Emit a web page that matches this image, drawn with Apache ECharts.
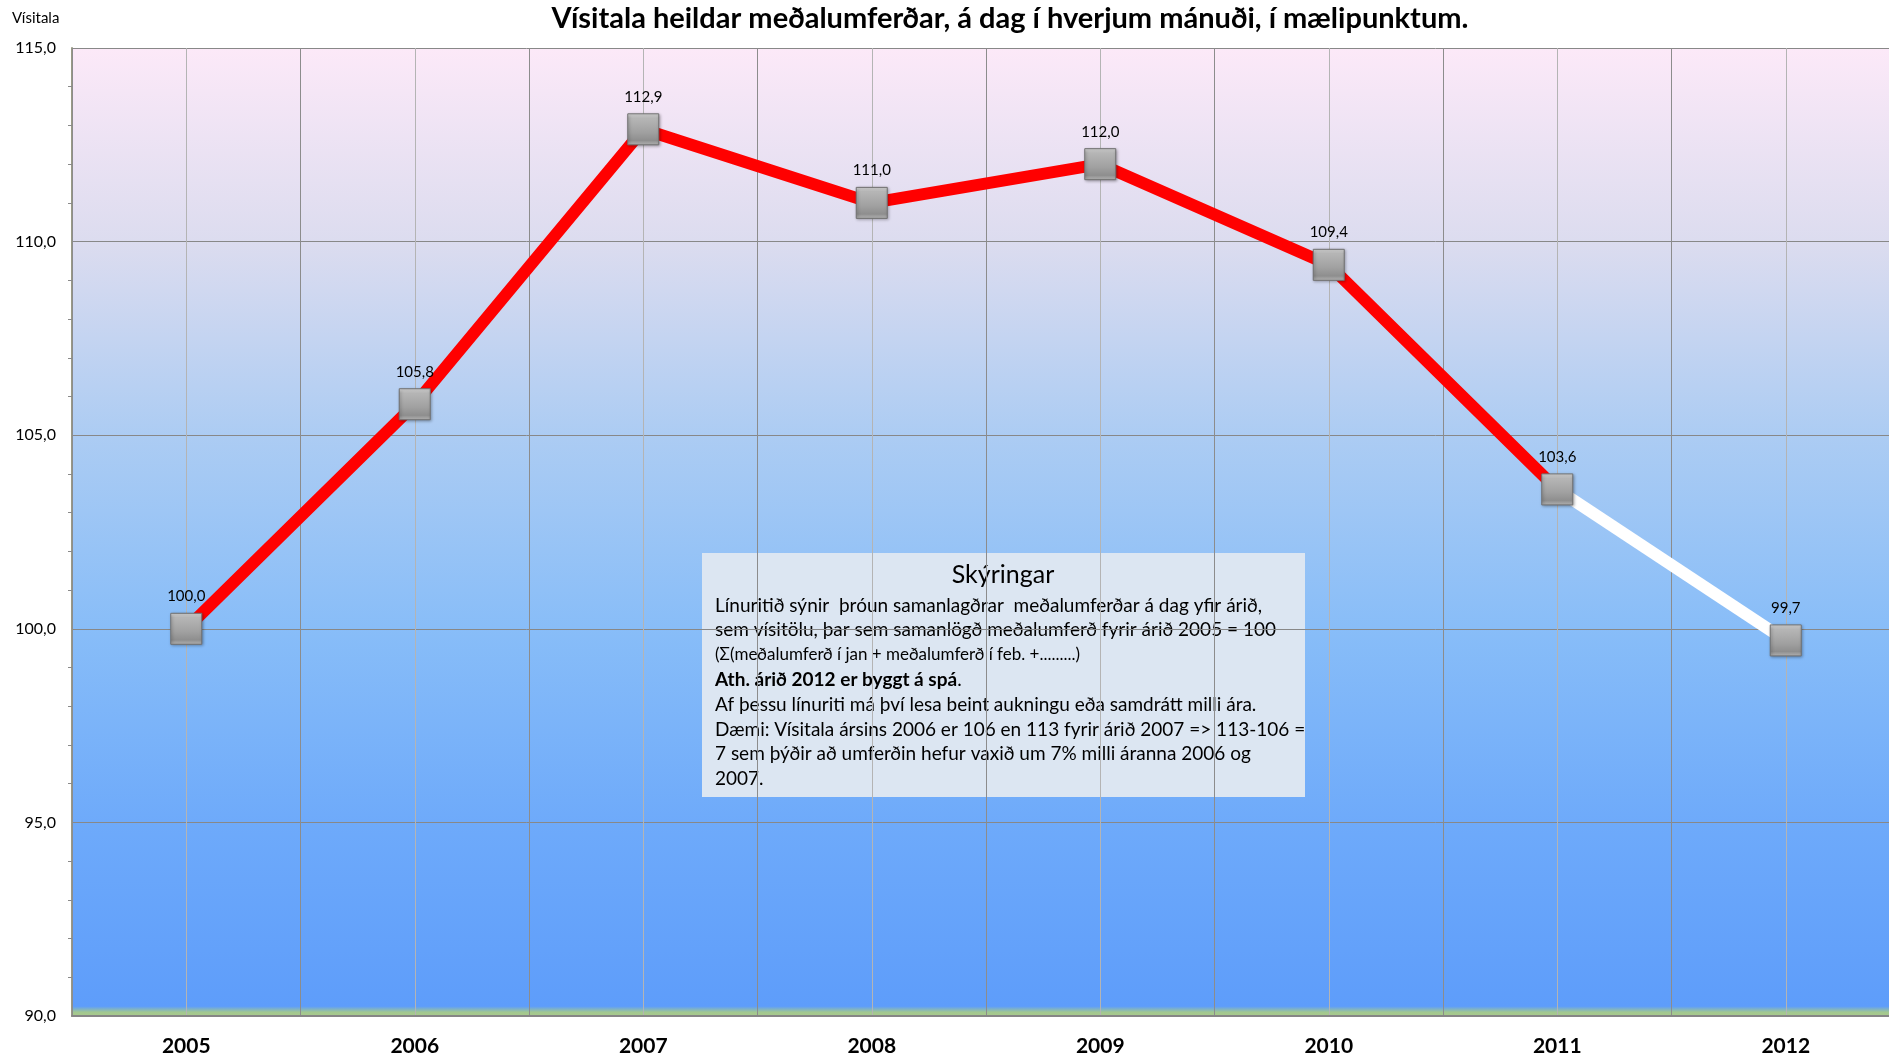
<!DOCTYPE html>
<html>
<head>
<meta charset="utf-8">
<script src="https://cdn.jsdelivr.net/npm/echarts@6/dist/echarts.min.js"></script>
<style>
  html, body { margin: 0; padding: 0; background: #fff; overflow: hidden; }
  #main { width: 1889px; height: 1059px; }
</style>
</head>
<body>
<div id="main"></div>
<script>
// data
var years = ['2005', '2006', '2007', '2008', '2009', '2010', '2011', '2012'];
var indexValues = [100.0, 105.8, 112.9, 111.0, 112.0, 109.4, 103.6, 99.7];
var actualValues = [100.0, 105.8, 112.9, 111.0, 112.0, 109.4, 103.6, '-'];
var forecastValues = ['-', '-', '-', '-', '-', '-', 103.6, 99.7];
var yTicks = [90, 95, 100, 105, 110, 115];

var font = 'Lato, "Open Sans", sans-serif';

function fmt(v) {
  return Number(v).toFixed(1).replace('.', ',');
}

var chartDom = document.getElementById('main');
var myChart = echarts.init(chartDom);
var option;

option = {
  backgroundColor: '#ffffff',
  animation: false,
  title: {
    text: 'Vísitala heildar meðalumferðar, á dag í hverjum mánuði, í mælipunktum.',
    left: 1005,
    textAlign: 'center',
    top: -1,
    textStyle: {
      color: '#000',
      fontSize: 29,
      fontWeight: 'bold',
      fontFamily: font
    }
  },
  grid: {
    left: 72,
    width: 1828,
    top: 48,
    bottom: 43,
    outerBoundsMode: 'none',
    containLabel: false,
    show: true,
    borderWidth: 0,
    backgroundColor: new echarts.graphic.LinearGradient(0, 0, 0, 1, [
      { offset: 0, color: '#fce9f8' },
      { offset: 0.2, color: '#dcdcef' },
      { offset: 0.4, color: '#acccf3' },
      { offset: 0.6, color: '#88bdf8' },
      { offset: 0.8, color: '#6eaafa' },
      { offset: 0.99, color: '#5e9dfa' },
      { offset: 0.996, color: '#a2c890' },
      { offset: 1, color: '#a9c98c' }
    ])
  },
  xAxis: [
    {
      type: 'category',
      data: years,
      boundaryGap: true,
      axisLine: { lineStyle: { color: '#868686', width: 2 } },
      axisTick: { show: false },
      axisLabel: {
        margin: 20,
        color: '#000',
        fontSize: 21,
        fontWeight: 'bold',
        fontFamily: font
      },
      splitLine: { show: true, lineStyle: { color: '#8c8c8c', width: 1 } },
      z: 3
    },
    {
      type: 'value',
      min: 0,
      max: 16,
      interval: 1,
      show: true,
      axisLine: { show: false },
      axisTick: { show: false },
      axisLabel: { show: false },
      splitLine: { show: true, lineStyle: { color: '#b4b4b4', width: 1 } }
    }
  ],
  yAxis: {
    type: 'value',
    min: yTicks[0],
    max: yTicks[yTicks.length - 1],
    interval: 5,
    name: 'Vísitala',
    nameLocation: 'end',
    nameGap: 0,
    nameTextStyle: {
      color: '#000',
      fontSize: 15,
      fontFamily: font,
      align: 'left',
      verticalAlign: 'bottom',
      padding: [0, 0, 22, -60]
    },
    axisLine: { show: true, lineStyle: { color: '#9a9a86', width: 2 } },
    axisTick: { show: false },
    minorTick: { show: true, splitNumber: 5, length: 4, lineStyle: { color: '#8a8a8a' } },
    axisLabel: {
      margin: 16,
      color: '#000',
      fontSize: 16,
      fontFamily: font,
      formatter: function (v) { return fmt(v); }
    },
    splitLine: { show: true, lineStyle: { color: '#888888', width: 1 } }
  },
  series: [
    {
      name: 'forecast',
      type: 'line',
      data: forecastValues,
      showSymbol: false,
      lineStyle: { color: '#ffffff', width: 12 },
      z: 3
    },
    {
      name: 'actual',
      type: 'line',
      data: actualValues,
      showSymbol: false,
      lineStyle: { color: '#ff0000', width: 12 },
      z: 4
    },
    {
      name: 'markers',
      type: 'line',
      data: indexValues,
      symbol: 'rect',
      symbolSize: 31,
      lineStyle: { width: 0, opacity: 0 },
      itemStyle: {
        color: new echarts.graphic.LinearGradient(0, 0, 0, 1, [
          { offset: 0, color: '#e4e4e4' },
          { offset: 0.15, color: '#b6b6b6' },
          { offset: 0.6, color: '#a0a0a0' },
          { offset: 0.85, color: '#8e8e8e' },
          { offset: 1, color: '#bababa' }
        ]),
        borderColor: '#707070',
        borderWidth: 1,
        shadowColor: 'rgba(0,0,0,0.35)',
        shadowBlur: 3,
        shadowOffsetX: 1,
        shadowOffsetY: 1
      },
      label: {
        show: true,
        position: 'top',
        distance: 9,
        color: '#000',
        fontSize: 15,
        fontFamily: font,
        formatter: function (p) { return fmt(p.value); }
      },
      z: 5
    }
  ],
  graphic: [
    {
      type: 'group',
      left: 702,
      top: 553,
      z: 100,
      children: [
        {
          type: 'rect',
          shape: { x: 0, y: 0, width: 603, height: 244 },
          style: { fill: '#dce6f2' }
        },
        {
          type: 'text',
          x: 301,
          y: 9,
          style: {
            text: 'Skýringar',
            align: 'center',
            fill: '#000',
            font: '25px ' + font
          }
        },
        {
          type: 'text',
          x: 13,
          y: 40,
          style: {
            text: [
              '{n|Línuritið sýnir  þróun samanlagðrar  meðalumferðar á dag yfir árið,}',
              '{n|sem vísitölu, þar sem samanlögð meðalumferð fyrir árið 2005 = 100}',
              '{s|(Σ(meðalumferð í jan + meðalumferð í feb. +.........)}',
              '{b|Ath. árið 2012 er byggt á spá}{n|.}',
              '{n|Af þessu línuriti má því lesa beint aukningu eða samdrátt milli ára.}',
              '{n|Dæmi: Vísitala ársins 2006 er 106 en 113 fyrir árið 2007 => 113-106 =}',
              '{n|7 sem þýðir að umferðin hefur vaxið um 7% milli áranna 2006 og}',
              '{n|2007.}'
            ].join('\n'),
            fill: '#000',
            rich: {
              n: { fontSize: 19, fontFamily: font, lineHeight: 24.8, fill: '#000' },
              s: { fontSize: 17, fontFamily: font, lineHeight: 24.8, fill: '#000' },
              b: { fontSize: 19, fontFamily: font, fontWeight: 'bold', lineHeight: 24.8, fill: '#000' }
            }
          }
        }
      ]
    }
  ]
};

option && myChart.setOption(option);
</script>
</body>
</html>
